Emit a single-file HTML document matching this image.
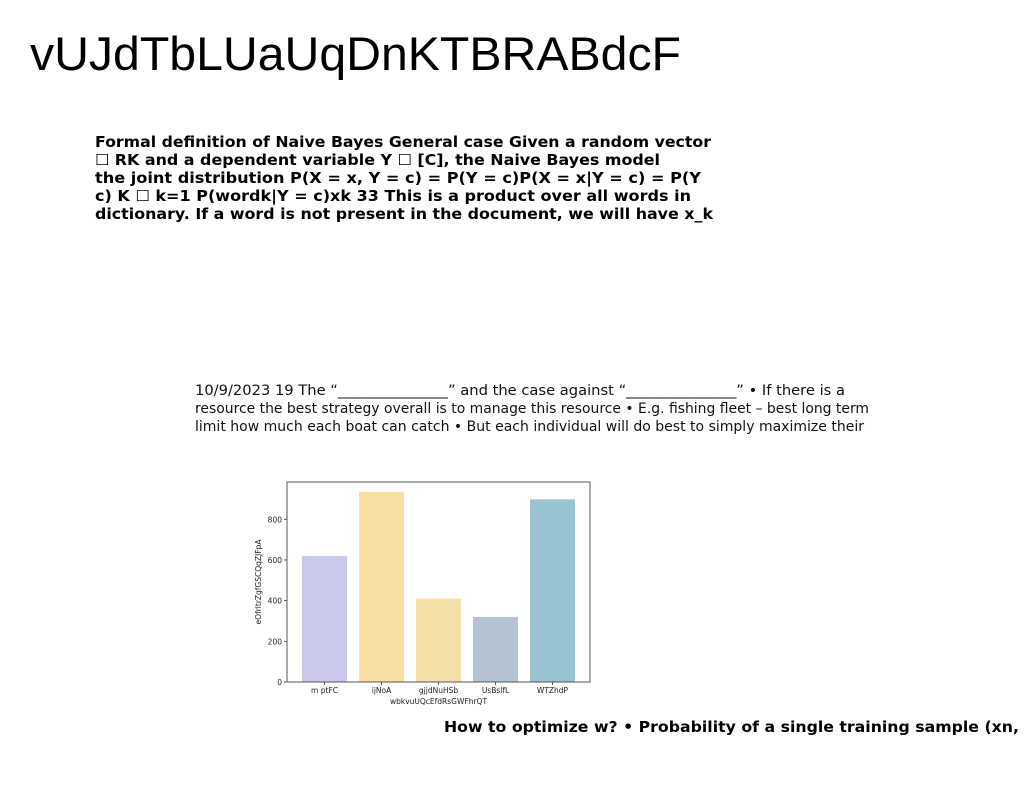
<!DOCTYPE html>
<html><head><meta charset="utf-8"><style>
html,body{margin:0;padding:0;background:#fff;width:1024px;height:788px;overflow:hidden}
svg{display:block}
</style></head><body>
<svg width="1024" height="788" xmlns="http://www.w3.org/2000/svg">
<text x="30" y="70" font-family="Liberation Sans, sans-serif" font-size="47" textLength="651" lengthAdjust="spacingAndGlyphs">vUJdTbLUaUqDnKTBRABdcF</text>
<g font-family="DejaVu Sans, sans-serif" font-weight="bold" font-size="15">
<text x="95" y="147" textLength="616" lengthAdjust="spacingAndGlyphs">Formal definition of Naive Bayes General case Given a random vector</text>
<text x="95" y="165" textLength="565" lengthAdjust="spacingAndGlyphs">☐ RK and a dependent variable Y ☐ [C], the Naive Bayes model</text>
<text x="95" y="183" textLength="606" lengthAdjust="spacingAndGlyphs">the joint distribution P(X = x, Y = c) = P(Y = c)P(X = x|Y = c) = P(Y</text>
<text x="95" y="201" textLength="596" lengthAdjust="spacingAndGlyphs">c) K ☐ k=1 P(wordk|Y = c)xk 33 This is a product over all words in</text>
<text x="95" y="219" textLength="618" lengthAdjust="spacingAndGlyphs">dictionary. If a word is not present in the document, we will have x_k</text>
</g>
<g font-family="DejaVu Sans, sans-serif" font-size="14" fill="#111">
<text x="195" y="395" textLength="650" lengthAdjust="spacingAndGlyphs">10/9/2023 19 The “_______________” and the case against “_______________” • If there is a</text>
<text x="195" y="413" textLength="674" lengthAdjust="spacingAndGlyphs">resource the best strategy overall is to manage this resource • E.g. fishing fleet – best long term</text>
<text x="195" y="431" textLength="669" lengthAdjust="spacingAndGlyphs">limit how much each boat can catch • But each individual will do best to simply maximize their</text>
</g>
<text x="444" y="732" font-family="DejaVu Sans, sans-serif" font-weight="bold" font-size="15" textLength="575" lengthAdjust="spacingAndGlyphs">How to optimize w? • Probability of a single training sample (xn,</text>
<g id="chart"></g>
</svg>
<script>
const categories = ["m ptFC","ijNoA","gjjdNuHSb","UsBslfL","WTZhdP"];
const values = [620, 935, 410, 320, 898];
const colors = ["#c8c9ec","#f9e0a2","#f5dfa9","#b3c3d3","#97c3d2"];
const yTicks = [0,200,400,600,800];
const xTitle = "wbkvuUQcEfdRsGWFhrQT";
const yTitle = "eOfrltrZgfGSCQqZJFpA";

const NS="http://www.w3.org/2000/svg";
const g=document.getElementById('chart');
const L=287,R=590,T=482,B=682;
const yScale=v=>B-v*(162.7/800);
const pitch=57, bw=45, x0=324.5;
const xScale=i=>x0+i*pitch;
function mk(tag,attrs,parent){const e=document.createElementNS(NS,tag);for(const k in attrs)e.setAttribute(k,attrs[k]);(parent||g).appendChild(e);return e;}
categories.forEach((c,i)=>{
  const r=mk('rect',{x:xScale(i)-bw/2,y:yScale(values[i]),width:bw,height:B-yScale(values[i]),fill:colors[i]});
  
  
  const t=mk('text',{x:xScale(i),y:693,'text-anchor':'middle','font-family':'DejaVu Sans, sans-serif','font-size':'7.5',fill:'#222'});
  t.textContent=c;
  
  
  mk('line',{x1:xScale(i),x2:xScale(i),y1:B,y2:B+3,stroke:'#333','stroke-width':0.8});
});
yTicks.forEach(v=>{
  mk('line',{x1:L-3,x2:L,y1:yScale(v),y2:yScale(v),stroke:'#333','stroke-width':0.8});
  const t=mk('text',{x:L-5,y:yScale(v)+3,'text-anchor':'end','font-family':'DejaVu Sans, sans-serif','font-size':'7.5',fill:'#222'});
  t.textContent=v;
  
  
});
const fr=mk('rect',{x:L,y:T,width:R-L,height:B-T,fill:'none',stroke:'#555','stroke-width':1});


const xt=mk('text',{x:(L+R)/2,y:704,'text-anchor':'middle','font-family':'DejaVu Sans, sans-serif','font-size':'7.5',fill:'#222'});
xt.textContent=xTitle;


const yt=mk('text',{x:0,y:0,'text-anchor':'middle','font-family':'DejaVu Sans, sans-serif','font-size':'7.5',fill:'#222',transform:'translate(261,582) rotate(-90)'});
yt.textContent=yTitle;


</script>
</body></html>
